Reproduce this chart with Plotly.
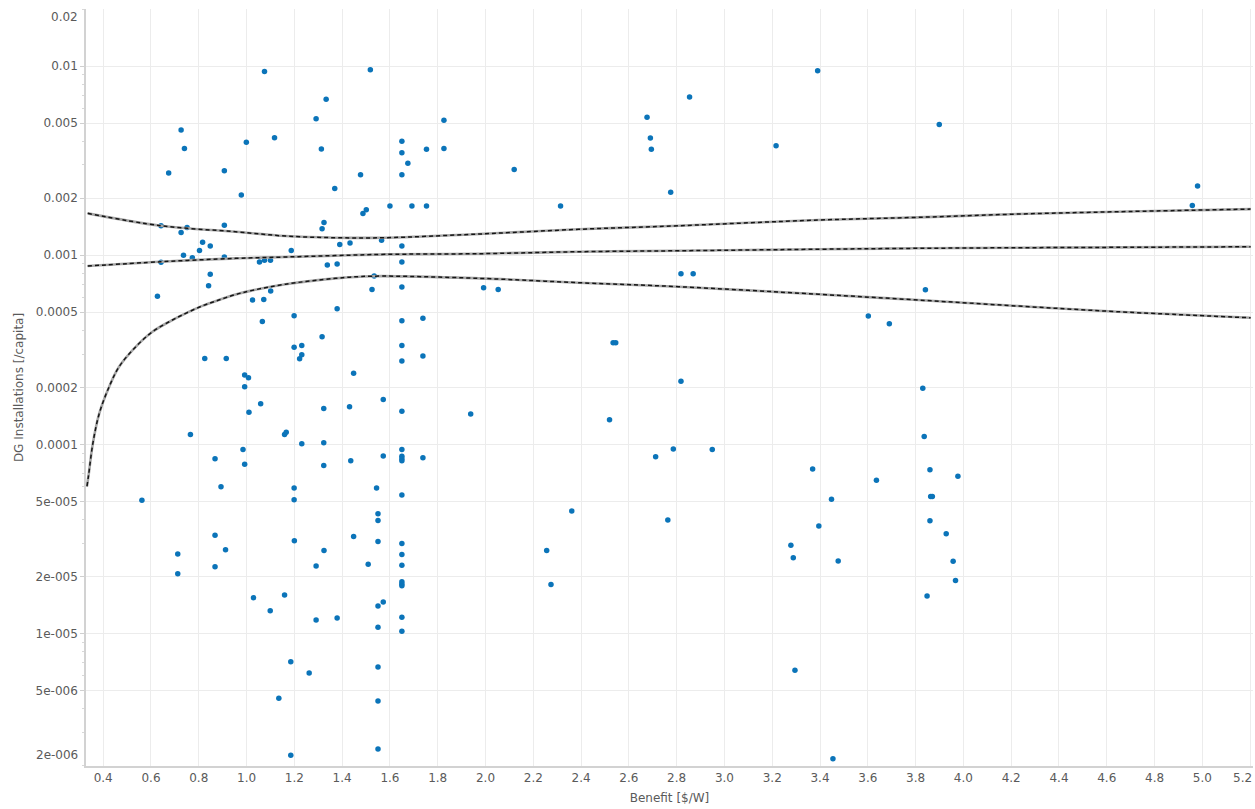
import plotly.graph_objects as go

# ---- scatter data: Benefit [$/W] vs DG installations [/capita] ----
benefit = [
    0.562, 0.627, 0.642, 0.642, 0.674, 0.712, 0.712, 0.726, 0.726, 0.736,
    0.740, 0.751, 0.765, 0.773, 0.803, 0.816, 0.825, 0.841, 0.848, 0.848,
    0.868, 0.868, 0.868, 0.893, 0.907, 0.907, 0.907, 0.912, 0.915, 0.978,
    0.985, 0.992, 0.992, 0.992, 0.999, 1.008, 1.010, 1.025, 1.029, 1.054,
    1.059, 1.066, 1.072, 1.075, 1.075, 1.099, 1.100, 1.101, 1.117, 1.135,
    1.159, 1.159, 1.166, 1.185, 1.185, 1.187, 1.199, 1.199, 1.199, 1.199,
    1.200, 1.222, 1.231, 1.231, 1.231, 1.262, 1.291, 1.291, 1.291, 1.313,
    1.316, 1.316, 1.323, 1.323, 1.323, 1.324, 1.324, 1.333, 1.338, 1.369,
    1.379, 1.379, 1.379, 1.390, 1.431, 1.433, 1.436, 1.448, 1.448, 1.477,
    1.487, 1.501, 1.509, 1.518, 1.525, 1.534, 1.544, 1.550, 1.550, 1.550,
    1.550, 1.550, 1.550, 1.550, 1.550, 1.565, 1.572, 1.572, 1.572, 1.600,
    1.650, 1.650, 1.650, 1.650, 1.650, 1.650, 1.650, 1.650, 1.650, 1.650,
    1.650, 1.650, 1.650, 1.650, 1.650, 1.650, 1.650, 1.650, 1.650, 1.650,
    1.650, 1.650, 1.650,
    1.675, 1.692, 1.738, 1.738, 1.738, 1.753, 1.753, 1.826, 1.826, 1.938,
    1.992, 2.053, 2.120, 2.256, 2.274, 2.314, 2.361, 2.519, 2.534, 2.545,
    2.676, 2.690, 2.694, 2.712, 2.763, 2.775, 2.786, 2.818, 2.818, 2.854,
    2.869, 2.949, 3.216, 3.278, 3.288, 3.295, 3.369, 3.390, 3.395, 3.448,
    3.454, 3.476, 3.602, 3.636, 3.690, 3.830, 3.836, 3.841, 3.848, 3.860,
    3.860, 3.863, 3.870, 3.899, 3.928, 3.957, 3.967, 3.977, 4.958, 4.980,
]
installations = [
    5.07e-5, 6.07e-4, 1.43e-3, 9.17e-4, 2.72e-3, 2.64e-5, 2.07e-5, 4.59e-3, 1.32e-3, 1.00e-3,
    3.67e-3, 1.40e-3, 1.13e-4, 9.70e-4, 1.06e-3, 1.17e-3, 2.85e-4, 6.90e-4, 1.12e-3, 7.93e-4,
    8.40e-5, 3.31e-5, 2.26e-5, 5.98e-5, 2.80e-3, 1.44e-3, 9.80e-4, 2.78e-5, 2.85e-4, 2.08e-3,
    9.40e-5, 2.33e-4, 2.02e-4, 7.86e-5, 3.95e-3, 2.25e-4, 1.48e-4, 5.80e-4, 1.55e-5, 9.20e-4,
    1.64e-4, 4.46e-4, 5.84e-4, 9.37e-3, 9.40e-4, 1.32e-5, 9.40e-4, 6.47e-4, 4.18e-3, 4.56e-6,
    1.13e-4, 1.60e-5, 1.16e-4, 7.10e-6, 2.28e-6, 1.06e-3, 4.79e-4, 3.26e-4, 5.89e-5, 5.10e-5,
    3.10e-5, 2.84e-4, 3.33e-4, 2.98e-4, 1.01e-4, 6.20e-6, 5.27e-3, 2.28e-5, 1.18e-5, 3.64e-3,
    1.38e-3, 3.71e-4, 1.55e-4, 1.02e-4, 7.75e-5, 1.49e-3, 2.75e-5, 6.67e-3, 8.88e-4, 2.25e-3,
    9.00e-4, 5.21e-4, 1.21e-5, 1.14e-3, 1.58e-4, 1.16e-3, 8.20e-5, 2.38e-4, 3.26e-5, 2.66e-3,
    1.66e-3, 1.74e-3, 2.33e-5, 9.55e-3, 6.60e-4, 7.77e-4, 5.89e-5, 4.30e-5, 3.96e-5, 3.07e-5,
    1.40e-5, 1.08e-5, 6.67e-6, 4.40e-6, 2.46e-6, 1.20e-3, 1.73e-4, 8.70e-5, 1.47e-5, 1.82e-3,
    4.00e-3, 3.48e-3, 2.66e-3, 1.12e-3, 9.20e-4, 6.80e-4, 4.50e-4, 3.33e-4, 2.76e-4, 1.50e-4,
    9.40e-5, 8.65e-5, 8.40e-5, 8.20e-5, 5.40e-5, 3.00e-5, 2.62e-5, 2.30e-5, 1.88e-5, 1.83e-5,
    1.79e-5, 1.22e-5, 1.03e-5,
    3.06e-3, 1.82e-3, 4.65e-4, 2.93e-4, 8.50e-5, 3.63e-3, 1.82e-3, 5.17e-3, 3.67e-3, 1.45e-4,
    6.73e-4, 6.60e-4, 2.84e-3, 2.75e-5, 1.82e-5, 1.82e-3, 4.45e-5, 1.35e-4, 3.45e-4, 3.45e-4,
    5.37e-3, 4.16e-3, 3.63e-3, 8.60e-5, 3.99e-5, 2.15e-3, 9.46e-5, 7.98e-4, 2.16e-4, 6.86e-3,
    7.98e-4, 9.40e-5, 3.79e-3, 2.93e-5, 2.52e-5, 6.40e-6, 7.42e-5, 9.44e-3, 3.71e-5, 5.14e-5,
    2.18e-6, 2.42e-5, 4.77e-4, 6.47e-5, 4.35e-4, 1.98e-4, 1.10e-4, 6.58e-4, 1.58e-5, 7.35e-5,
    3.95e-5, 5.30e-5, 5.30e-5, 4.91e-3, 3.37e-5, 2.41e-5, 1.91e-5, 6.80e-5, 1.83e-3, 2.32e-3,
]

# ---- fitted curve and its band ----
fit_x = [0.335, 0.641, 0.954, 1.163, 1.372, 1.580, 1.973, 2.390, 2.808, 3.393, 3.810, 4.228, 4.645, 5.202]
fit_mid = [8.77e-4, 9.24e-4, 9.63e-4, 9.79e-4, 9.96e-4, 1.011e-3, 1.019e-3, 1.044e-3, 1.056e-3,
           1.076e-3, 1.088e-3, 1.096e-3, 1.101e-3, 1.109e-3]
fit_upper = [1.665e-3, 1.432e-3, 1.331e-3, 1.263e-3, 1.238e-3, 1.238e-3, 1.295e-3, 1.371e-3, 1.432e-3,
             1.535e-3, 1.586e-3, 1.651e-3, 1.698e-3, 1.754e-3]
low_x = [0.332, 0.339, 0.356, 0.383, 0.425, 0.467, 0.537, 0.606, 0.676, 0.745, 0.815, 0.884,
         0.954, 1.024, 1.163, 1.372, 1.525, 1.973, 2.390, 2.808, 3.393, 3.810, 4.228, 4.645, 5.202]
fit_lower = [6.0e-5, 6.9e-5, 1.0e-4, 1.45e-4, 2.02e-4, 2.58e-4, 3.29e-4, 3.94e-4, 4.45e-4, 4.93e-4,
             5.40e-4, 5.80e-4, 6.20e-4, 6.52e-4, 7.03e-4, 7.55e-4, 7.75e-4, 7.55e-4, 7.16e-4,
             6.82e-4, 6.22e-4, 5.80e-4, 5.39e-4, 5.03e-4, 4.67e-4]

# ---- axis ticks ----
x_ticks = [0.4 + 0.2 * i for i in range(25)]
x_tick_text = ["%.1f" % v for v in x_ticks]
x_tick_text[-1] = ""          # the last label is drawn shifted inward below
y_ticks = [2e-6, 5e-6, 1e-5, 2e-5, 5e-5, 1e-4, 2e-4, 5e-4, 1e-3, 2e-3, 5e-3, 1e-2, 2e-2]
y_labels = ["2e-006", "5e-006", "1e-005", "2e-005", "5e-005", "0.0001", "0.0002",
            "0.0005", "0.001", "0.002", "0.005", "0.01", "0.02"]
y_tick_text = [""] + y_labels[1:-1] + [""]   # end labels drawn shifted inward below
y_minor = [m * 10.0 ** e for e in range(-6, -1) for m in range(2, 10)
           if 2e-6 <= m * 10.0 ** e <= 2e-2]

FONT = "DejaVu Sans"
TXT = "#5a5a5a"

fig = go.Figure()
fig.add_trace(go.Scatter(
    x=benefit, y=installations, mode="markers",
    marker=dict(color="#0b74b9", size=5.5, line=dict(width=0)),
    showlegend=False, hoverinfo="x+y"))

for xs, ys in [(fit_x, fit_upper), (fit_x, fit_mid), (low_x, fit_lower)]:
    fig.add_trace(go.Scatter(x=xs, y=ys, mode="lines",
                             line=dict(color="#a6a6a6", width=2.6, shape="spline", smoothing=1.0),
                             showlegend=False, hoverinfo="skip"))
    fig.add_trace(go.Scatter(x=xs, y=ys, mode="lines",
                             line=dict(color="#151515", width=1.5, dash="4px,3px",
                                       shape="spline", smoothing=1.0),
                             showlegend=False, hoverinfo="skip"))

lab_font = dict(family=FONT, size=12, color=TXT)
fig.add_annotation(x=x_ticks[-1], xref="x", y=0, yref="paper", text="%.1f" % x_ticks[-1],
                   showarrow=False, xanchor="right", yanchor="top", xshift=4, yshift=-3,
                   font=lab_font)
fig.add_annotation(x=0, xref="paper", y=1, yref="paper", text=y_labels[-1],
                   showarrow=False, xanchor="right", yanchor="middle", xshift=-6, yshift=-8,
                   font=lab_font)
fig.add_annotation(x=0, xref="paper", y=0, yref="paper", text=y_labels[0],
                   showarrow=False, xanchor="right", yanchor="middle", xshift=-6, yshift=11,
                   font=lab_font)

fig.update_layout(
    width=1255, height=809,
    margin=dict(l=86, r=2, t=9, b=43, autoexpand=False),
    paper_bgcolor="white", plot_bgcolor="white",
    font=dict(family=FONT, size=12, color=TXT),
    xaxis=dict(
        range=[0.328, 5.212], tickvals=x_ticks, ticktext=x_tick_text,
        showgrid=True, gridcolor="#ececec", gridwidth=1,
        showline=True, linecolor="#d2d2d2", linewidth=1.5,
        ticks="", zeroline=False,
        tickfont=lab_font,
        title=dict(text="Benefit [$/W]", font=lab_font, standoff=9),
        automargin=False,
    ),
    yaxis=dict(
        type="log", range=[-5.6995, -1.6985],
        tickvals=y_ticks, ticktext=y_tick_text,
        showgrid=True, gridcolor="#ececec", gridwidth=1,
        showline=True, linecolor="#d2d2d2", linewidth=1.5,
        ticks="outside", ticklen=4, tickcolor="#cfcfcf",
        minor=dict(tickvals=y_minor, ticks="outside", ticklen=2, tickcolor="#d8d8d8", showgrid=False),
        zeroline=False,
        tickfont=lab_font,
        title=dict(text="DG Installations [/capita]", font=lab_font, standoff=9),
        automargin=False,
    ),
)

fig.write_html("out.html", config={"displayModeBar": False},
               post_script="document.body.style.margin='0';document.body.style.overflow='hidden';")
